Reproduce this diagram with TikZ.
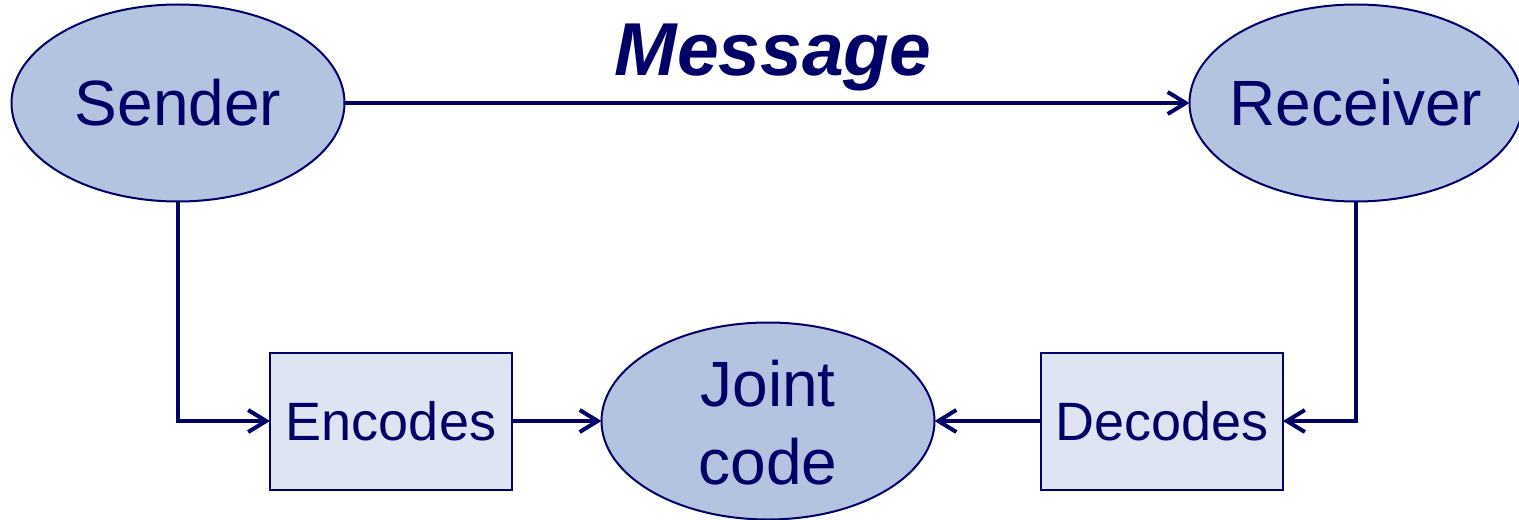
\documentclass[tikz,border=0pt]{standalone}
\usepackage{fontspec}
\setmainfont{Liberation Sans}
\usetikzlibrary{shapes.geometric,arrows.meta}
\definecolor{navy}{HTML}{000066}
\definecolor{ovalfill}{HTML}{B3C3E0}
\definecolor{boxfill}{HTML}{DEE4F2}
\begin{document}
\begin{tikzpicture}[x=0.5pt,y=-0.5pt,
  oval/.style={ellipse, draw=navy, line width=1pt, fill=ovalfill,
    minimum width=166.5pt, minimum height=98.5pt, inner sep=0pt, outer sep=0pt},
  ovaltext/.style={text=navy, font=\fontsize{32}{39}\selectfont, align=center},
  stagebox/.style={rectangle, draw=navy, line width=1pt, fill=boxfill, text=navy,
    minimum width=121pt, minimum height=68.5pt, inner sep=0pt, outer sep=0pt,
    font=\fontsize{27}{32}\selectfont},
  conn/.style={draw=navy, line width=2pt,
    -{Straight Barb[length=9pt,width=11pt]}}
]
\useasboundingbox (0,0) rectangle (1519,519);

% ovals: the shape is sized on its own, the words sit on top as a label
\node[oval, label={[ovaltext, name=senderlbl]center:Sender}] (sender) at (178,103) {};
\node[oval, label={[ovaltext, name=receiverlbl]center:Receiver}] (receiver) at (1356,103) {};
\node[oval, label={[ovaltext, name=jointlbl, yshift=-1pt]center:Joint\\code}] (joint) at (768,421) {};

\node[stagebox] (enc) at (391,421) {Encodes};
\node[stagebox] (dec) at (1162,421) {Decodes};

\node[text=navy, font=\fontsize{37.5}{45}\selectfont\bfseries\itshape] (msg) at (773,57) {Message};

\draw[conn] (sender) -- (receiver);
\draw[conn] (sender.south) |- (enc.west);
\draw[conn] (enc.east) -- (joint.west);
\draw[conn] (receiver.south) |- (dec.east);
\draw[conn] (dec.west) -- (joint.east);
\end{tikzpicture}
\end{document}
